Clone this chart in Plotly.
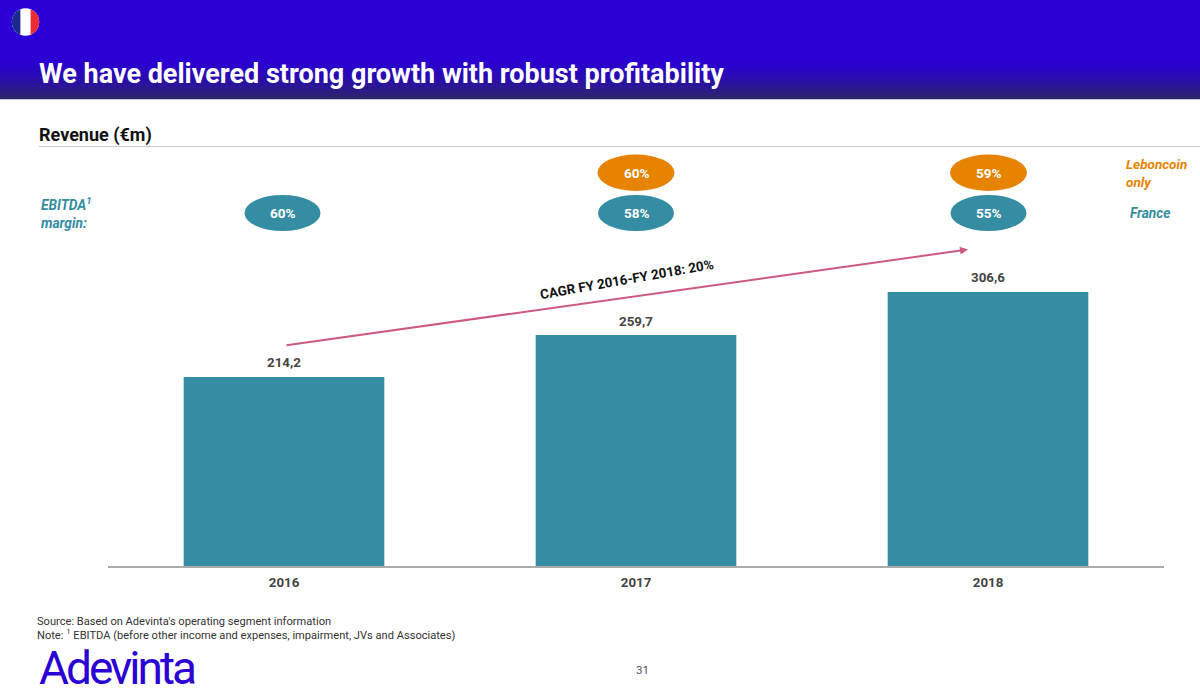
import numpy as np
import plotly.graph_objects as go

years = ["2016", "2017", "2018"]
revenue = [214.2, 259.7, 306.6]
revenue_labels = ["214,2", "259,7", "306,6"]
france_margin = ["60%", "58%", "55%"]
leboncoin_margin = [None, "60%", "59%"]
W, H = 1200, 694
TEAL = "#348DA3"
ORANGE = "#E68300"
BLUE = "#2A00D4"
FONT = "Roboto"


def px(x):
    return x / W


def py(y):
    return 1 - y / H


shapes = []
annotations = []


def rect(x0, y0, x1, y1, color):
    shapes.append(dict(type="rect", xref="paper", yref="paper", x0=px(x0), x1=px(x1),
                       y0=py(y0), y1=py(y1), fillcolor=color, line_width=0, layer="below"))


def ellipse(x0, y0, x1, y1, color):
    shapes.append(dict(type="circle", xref="paper", yref="paper", x0=px(x0), x1=px(x1),
                       y0=py(y0), y1=py(y1), fillcolor=color, line_width=0, layer="below"))


def line(x0, y0, x1, y1, color, width=1):
    shapes.append(dict(type="line", xref="paper", yref="paper", x0=px(x0), x1=px(x1),
                       y0=py(y0), y1=py(y1), line=dict(color=color, width=width), layer="below"))


def text(x, y, s, size, color, bold=False, italic=False, anchor="left", angle=0, family=FONT):
    if bold:
        s = f"<b>{s}</b>"
    if italic:
        s = f"<i>{s}</i>"
    if anchor == "left":
        x -= 2  # annotation box padding
    annotations.append(dict(xref="paper", yref="paper", x=px(x), y=py(y), text=s, showarrow=False,
                            xanchor=anchor, yanchor="middle", align=anchor,
                            textangle=angle, font=dict(family=family, size=size, color=color)))


# header band with a stepped fade to dark at the bottom edge
rect(0, 0, W, 56, BLUE)
start, end = np.array([42, 0, 212]), np.array([44, 38, 104])
for yy in range(56, 99):
    t = ((yy - 56) / 42) ** 1.6
    c = (start + (end - start) * t).astype(int)
    rect(0, yy, W, yy + 1.2, f"rgb({c[0]},{c[1]},{c[2]})")

# flag
cx, cy, r = 25.5, 22, 13.7
ellipse(cx - r, cy - r, cx + r, cy + r, "#FFFFFF")


def flag_part(a0, a1, color):
    ang = np.radians(np.linspace(a0, a1, 30))
    pts = [(px(cx + r * np.cos(a)), py(cy - r * np.sin(a))) for a in ang]
    path = "M " + " L ".join(f"{p[0]:.5f},{p[1]:.5f}" for p in pts) + " Z"
    shapes.append(dict(type="path", xref="paper", yref="paper", path=path,
                       fillcolor=color, line_width=0, layer="below"))


flag_part(112, 248, "#1B2A8F")
flag_part(-68, 68, "#EE2A35")

text(39, 73.5, "We have delivered strong growth with robust profitability", 27, "#FFFFFF", bold=True)
text(39, 134.5, "Revenue (€m)", 18, "#111111", bold=True)
line(39, 146.5, W, 146.5, "#C9CDD0", 1.2)

# margin ellipses
centers = [282.5, 636, 988.5]
for c, f, l in zip(centers, france_margin, leboncoin_margin):
    ellipse(c - 38, 195, c + 38, 231, TEAL)
    text(c, 212.7, f, 13.5, "#FFFFFF", bold=True, anchor="center")
    if l:
        ellipse(c - 38.5, 154.5, c + 38.5, 191, ORANGE)
        text(c, 172.7, l, 13.5, "#FFFFFF", bold=True, anchor="center")

text(41, 212.5, "EBITDA<sup>1</sup><br>margin:", 13.7, TEAL, bold=True, italic=True)
text(1125.5, 173, "Leboncoin<br>only", 13.5, ORANGE, bold=True, italic=True)
text(1130, 213, "France", 13.7, TEAL, bold=True, italic=True)

# CAGR arrow and label
annotations.append(dict(xref="paper", yref="paper", axref="pixel", ayref="pixel",
                        x=px(968), y=py(249.5), ax=285 - 968, ay=345.5 - 249.5, text="",
                        showarrow=True, arrowhead=2, arrowsize=0.8, arrowwidth=2, arrowcolor="#CC5A85"))
text(627, 279.5, "CAGR FY 2016-FY 2018: 20%", 13.4, "#111111", bold=True, anchor="center", angle=-10)

# footer
text(37, 621.5, "Source: Based on Adevinta's operating segment information", 11.1, "#333333")
text(37, 634.3, "Note: <sup>1</sup> EBITDA (before other income and expenses, impairment, JVs and Associates)", 11.1, "#333333")
text(39, 668, "Adevinta", 46, BLUE)
text(642, 669.5, "31", 11.5, "#555555", anchor="center")

# bar value labels, placed from the data (category index on the x axis)
for i, (v, lab) in enumerate(zip(revenue, revenue_labels)):
    annotations.append(dict(xref="x", yref="y", x=i, y=v, text=f"<b>{lab}</b>", showarrow=False,
                            xanchor="center", yanchor="middle", yshift=14,
                            font=dict(family=FONT, size=13.3, color="#444444")))

fig = go.Figure(go.Bar(x=years, y=revenue, marker=dict(color=TEAL, line_width=0), width=0.57))
fig.update_layout(
    width=W, height=H, margin=dict(l=0, r=0, t=0, b=0), paper_bgcolor="#FFFFFF", plot_bgcolor="rgba(0,0,0,0)",
    showlegend=False, shapes=shapes, annotations=annotations, font=dict(family=FONT),
    xaxis=dict(domain=[px(108), px(1164)], type="category", range=[-0.5, 2.5], showgrid=False, showline=True,
               linecolor="#AAAAAA", linewidth=1.5, ticks="", ticklabelstandoff=3,
               tickfont=dict(family=FONT, size=13.3, color="#444444", weight="bold"), zeroline=False),
    yaxis=dict(domain=[py(566), py(250)], range=[8.7, 8.7 + 316 / 0.92], visible=False),
)
fig.write_html("out.html",
               post_script="document.body.style.margin='0';document.body.style.overflow='hidden';"
                           "document.querySelectorAll('text').forEach(function(t){"
                           "if(t.textContent==='Adevinta'){t.style.letterSpacing='-3px';}});",
               config=dict(displayModeBar=False))
